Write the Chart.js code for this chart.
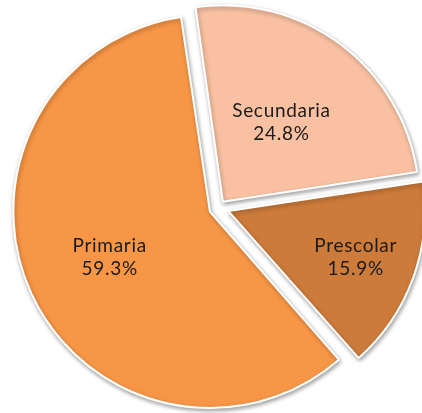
<!DOCTYPE html>
<html>
<head>
<meta charset="utf-8">
<script src="https://cdn.jsdelivr.net/npm/chart.js@4.4.1/dist/chart.umd.min.js"></script>
<style>
  html, body { margin: 0; padding: 0; background: #fff; }
  #chartBox { position: relative; width: 422px; height: 413px; overflow: hidden; }
  /* canvas is a bit larger than the window so the pie keeps its size */
  #pieChart { position: absolute; left: 0px; top: -11px; }
</style>
</head>
<body>
<div id="chartBox"><canvas id="pieChart" width="437" height="437"></canvas></div>
<script>
const categories = ["Secundaria", "Prescolar", "Primaria"];
const shares = [24.8, 15.9, 59.3];
const sliceColors = ["#F9C1A2", "#CD7B3A", "#F79646"];
// Chart.js moves a slice by offset/4 px
const sliceOffsets = [29, 42, 38];
// how far out along the slice the label sits (fraction of radius)
const labelDepth = [0.50, 0.695, 0.59];

// Chart.js grows the radius of exploded slices wider than 180deg; undo that
const keepRadius = {
    id: "keepRadius",
    afterDatasetUpdate(chart){
        chart.getDatasetMeta(0).data.forEach(arc => {
            const fix = 1 - Math.sin(Math.min(Math.PI, arc.circumference || 0));
            arc.outerRadius -= (arc.options.offset || 0) / 4 * fix;
        });
    }
};

const softShadow = {
    id: "softShadow",
    beforeDatasetsDraw(chart){
        const ctx = chart.ctx;
        ctx.save();
        ctx.shadowColor = "rgba(0,0,0,0.35)";
        ctx.shadowBlur = 4;
        ctx.shadowOffsetX = 1;
        ctx.shadowOffsetY = 2;
    },
    afterDatasetsDraw(chart){
        chart.ctx.restore();
    }
};

const sliceLabels = {
    id: "sliceLabels",
    afterDatasetsDraw(chart){
        const ctx = chart.ctx;
        const meta = chart.getDatasetMeta(0);
        ctx.save();
        ctx.fillStyle = "#1b1b1b";
        ctx.font = "19px Lato";
        ctx.letterSpacing = "0.7px";
        ctx.textAlign = "center";
        ctx.textBaseline = "middle";
        meta.data.forEach((arc, i) => {
            const p = arc.getProps(["x", "y", "startAngle", "endAngle", "outerRadius"]);
            const mid = (p.startAngle + p.endAngle) / 2;
            const dist = sliceOffsets[i] / 4 + p.outerRadius * labelDepth[i];
            const x = p.x + Math.cos(mid) * dist;
            const y = p.y + Math.sin(mid) * dist;
            ctx.fillText(categories[i], x, y - 11.5);
            ctx.fillText(shares[i].toFixed(1) + "%", x, y + 11.5);
        });
        ctx.restore();
    }
};

new Chart(document.getElementById("pieChart"), {
    type: "pie",
    data: {
        labels: categories,
        datasets: [{
            data: shares,
            backgroundColor: sliceColors,
            borderColor: "#ffffff",
            borderWidth: 2,
            offset: sliceOffsets
        }]
    },
    options: {
        responsive: false,
        animation: false,
        rotation: -8,
        layout: { padding: 0 },
        plugins: {
            legend: { display: false },
            tooltip: { enabled: false }
        }
    },
    plugins: [keepRadius, softShadow, sliceLabels]
});
</script>
</body>
</html>
